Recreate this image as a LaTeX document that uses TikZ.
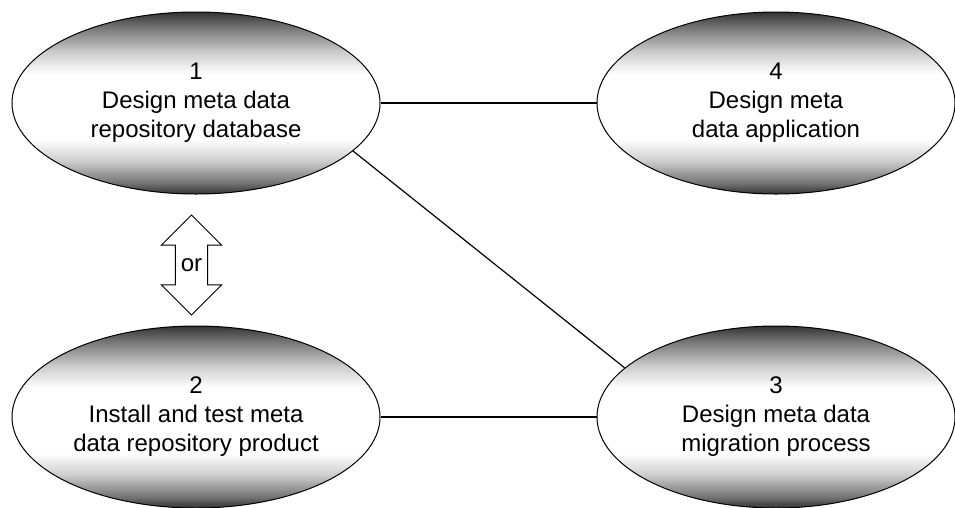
\documentclass[tikz,border=0pt]{standalone}
\usepackage{fontspec}
\setmainfont{Liberation Sans}
\usetikzlibrary{shapes.geometric, shapes.arrows}
\pgfdeclareverticalshading{ovalshade}{100bp}{color(0bp)=(black!80); color(25bp)=(black!80); color(28bp)=(black!55); color(34bp)=(black!20); color(40bp)=(white); color(58bp)=(white); color(64bp)=(black!20); color(71bp)=(black!55); color(75bp)=(black!80); color(100bp)=(black!80)}
\tikzstyle{stage} = [ellipse, minimum width=368pt, minimum height=182pt, inner sep=0pt, align=center, draw=black, line width=1pt, shade, shading=ovalshade, font=\fontsize{24}{29}\selectfont]
\tikzstyle{choice} = [double arrow, double arrow head extend=14pt, minimum height=100pt, shape border rotate=90, inner xsep=5pt, inner ysep=2pt, draw=black, line width=1pt, fill=white, font=\fontsize{24}{29}\selectfont]
\tikzstyle{line} = [line width=1.2pt]

\begin{document}
\begin{tikzpicture}[x=1pt, y=1pt, node distance=580pt]
\useasboundingbox (0,0) rectangle (955,-507);
\node (e1) [stage] at (196,-103) {1\\Design meta data\\repository database};
\node (e4) [stage, right of=e1, minimum width=358pt] {4\\Design meta\\data application};
\node (e2) [stage, below of=e1, node distance=314pt] {2\\Install and test meta\\data repository product};
\node (e3) [stage, right of=e2, minimum width=358pt] {3\\Design meta data\\migration process};
\node (orarrow) [choice, below of=e1, node distance=162pt, xshift=-4.5pt] {or};

\draw [line](e1) -- (e4);
\draw [line](e2) -- (e3);
\draw [line](e1.-17) -- (e3.162);
\end{tikzpicture}
\end{document}
